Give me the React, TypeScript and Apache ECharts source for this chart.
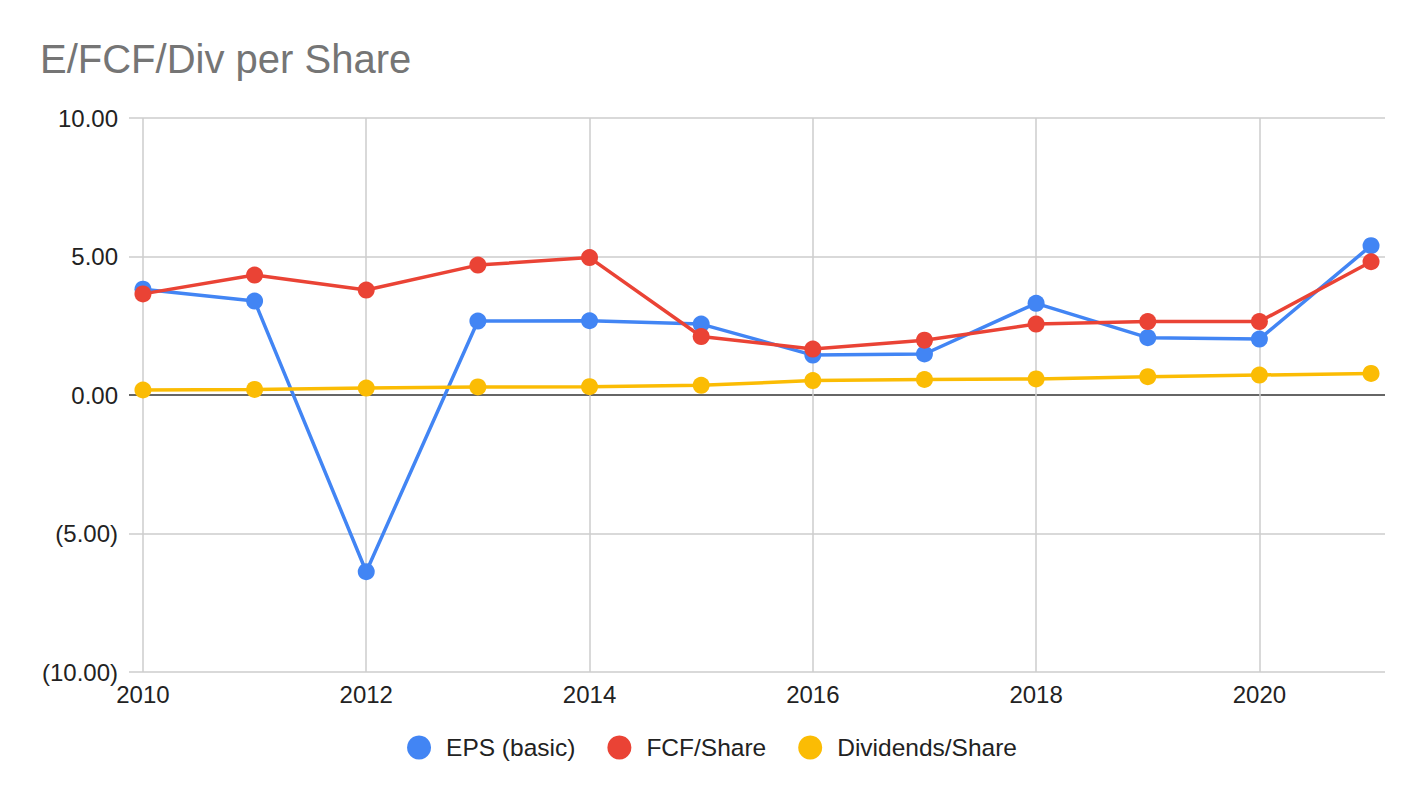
import React, { useEffect, useRef } from "react";
import * as echarts from "echarts";

const years = [2010, 2011, 2012, 2013, 2014, 2015, 2016, 2017, 2018, 2019, 2020, 2021];
const epsBasic = [3.82, 3.39, -6.38, 2.67, 2.68, 2.56, 1.44, 1.48, 3.31, 2.07, 2.02, 5.39];
const fcfShare = [3.65, 4.33, 3.79, 4.69, 4.96, 2.11, 1.66, 1.98, 2.56, 2.65, 2.65, 4.81];
const divShare = [0.18, 0.2, 0.25, 0.29, 0.3, 0.35, 0.52, 0.56, 0.58, 0.66, 0.72, 0.78];
const xTicks = [2010, 2012, 2014, 2016, 2018, 2020];
const seriesNames = ["EPS (basic)", "FCF/Share", "Dividends/Share"];
const seriesColors = ["#4285F4", "#EA4335", "#FBBC04"];

const FONT = "Arial, 'Liberation Sans', sans-serif";

export default function App() {
  const ref = useRef<HTMLDivElement>(null);
  useEffect(() => {
    document.body.style.margin = "0";
    if (!ref.current) return;
    const chart = echarts.init(ref.current, null, { renderer: "svg" });
    const values = [epsBasic, fcfShare, divShare];
    chart.setOption({
      animation: false,
      backgroundColor: "#ffffff",
      title: {
        text: "E/FCF/Div per Share",
        left: 40,
        top: 39,
        padding: 0,
        textStyle: { fontFamily: FONT, fontSize: 40, fontWeight: "normal", color: "#757575" },
      },
      legend: {
        left: "center",
        top: 730,
        icon: "circle",
        itemWidth: 24,
        itemHeight: 24,
        itemGap: 32,
        data: seriesNames,
        textStyle: { fontFamily: FONT, fontSize: 24.5, color: "#222", padding: [0, 0, 0, 10] },
      },
      grid: { left: 129, right: 39, top: 118, bottom: 126, containLabel: false },
      xAxis: {
        type: "value",
        min: 2009.875,
        max: 2021.125,
        axisLine: { show: false },
        axisTick: { show: false, customValues: xTicks },
        axisLabel: {
          customValues: xTicks,
          formatter: (v: number) => String(v),
          fontFamily: FONT,
          fontSize: 24,
          color: "#222",
          margin: 10,
        },
        splitLine: { show: true, lineStyle: { color: "#cccccc", width: 1.5 } },
      },
      yAxis: {
        type: "value",
        min: -10,
        max: 10,
        interval: 5,
        axisLine: { show: false },
        axisTick: { show: false },
        axisLabel: {
          formatter: (v: number) => (v < 0 ? `(${Math.abs(v).toFixed(2)})` : v.toFixed(2)),
          fontFamily: FONT,
          fontSize: 24,
          color: "#222",
          margin: 11,
        },
        splitLine: {
          show: true,
          lineStyle: { color: ["#cccccc", "#cccccc", "#333333", "#cccccc", "#cccccc"], width: 1.5 },
        },
      },
      series: seriesNames.map((name, i) => ({
        name,
        type: "line",
        data: years.map((y, j) => [y, values[i][j]]),
        symbol: "circle",
        symbolSize: 17,
        showSymbol: true,
        itemStyle: { color: seriesColors[i] },
        lineStyle: { color: seriesColors[i], width: 3.5 },
        emphasis: { disabled: true },
      })),
    });
    return () => chart.dispose();
  }, []);
  return (
    <div
      ref={ref}
      style={{ position: "absolute", left: 0, top: 0, width: 1424, height: 798 }}
    />
  );
}
